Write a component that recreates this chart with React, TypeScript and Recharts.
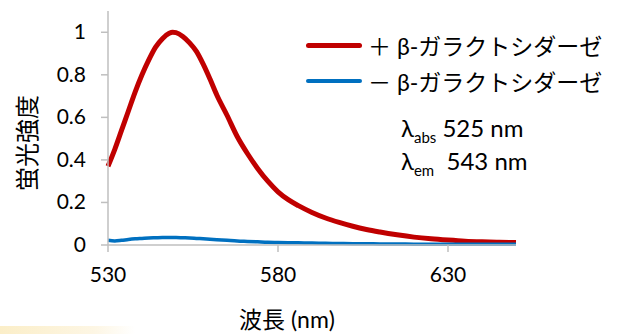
import { Line, LineChart, XAxis, YAxis } from 'recharts';

const wavelengths = [
  530, 532, 534, 536, 538, 540, 542, 544, 546, 548, 549, 550, 552, 554, 556, 558, 560, 562, 565, 568,
  571, 574, 577, 580, 583, 586, 590, 594, 598, 602, 606, 610, 615, 620, 625, 630, 635, 640, 645, 650,
];
const withEnzyme = [
  0.37, 0.45, 0.54, 0.63, 0.72, 0.8, 0.87, 0.93, 0.97, 0.995, 1.0, 0.998, 0.98, 0.95, 0.91, 0.85, 0.78, 0.705, 0.61, 0.51,
  0.43, 0.36, 0.3, 0.25, 0.213, 0.185, 0.153, 0.127, 0.106, 0.088, 0.073, 0.061, 0.048, 0.037, 0.029, 0.023, 0.018, 0.015, 0.013, 0.012,
];
const withoutEnzyme = [
  0.022, 0.019, 0.022, 0.026, 0.029, 0.031, 0.033, 0.034, 0.035, 0.035, 0.035, 0.035, 0.034, 0.033, 0.031, 0.029, 0.027, 0.025, 0.022, 0.019,
  0.017, 0.015, 0.013, 0.012, 0.011, 0.01, 0.009, 0.008, 0.007, 0.006, 0.006, 0.005, 0.005, 0.004, 0.004, 0.004, 0.004, 0.003, 0.003, 0.003,
];
const xTicks = [530, 580, 630];
const yTicks = [0, 0.2, 0.4, 0.6, 0.8, 1];

const seriesNames = ['＋ β-ガラクトシダーゼ', '－ β-ガラクトシダーゼ'];
const seriesColors = ['#C00000', '#0070C0'];

const data = wavelengths.map((nm, i) => ({ nm, plus: withEnzyme[i], minus: withoutEnzyme[i] }));

const font = "Lato, 'Noto Sans CJK JP', sans-serif";
const axisGray = '#bfbfbf';

function YTick({ y, payload }: any) {
  return (
    <text x={86} y={y} dy={7} textAnchor="end" fill="#000" fontSize={21} fontFamily={font}>
      {payload.value}
    </text>
  );
}

export default function App() {
  return (
    <div style={{ position: 'absolute', left: 0, top: 0, width: 619, height: 334, background: '#fff', overflow: 'hidden' }}>
      <LineChart width={619} height={334} data={data} margin={{ top: 11, right: 103, bottom: 0, left: 0 }}>
        <XAxis
          dataKey="nm"
          type="number"
          domain={[530, 650]}
          ticks={xTicks}
          height={89}
          stroke={axisGray}
          strokeWidth={1.5}
          tickSize={7}
          tick={{ fill: '#000', fontSize: 21, fontFamily: font, dy: 13 }}
          label={{
            content: () => (
              <text x={287} y={328} textAnchor="middle" fill="#000" fontSize={23} fontFamily={font}>
                波長 (nm)
              </text>
            ),
          }}
        />
        <YAxis
          domain={[0, 1.1]}
          ticks={yTicks}
          width={108}
          stroke={axisGray}
          strokeWidth={1.5}
          tickSize={7}
          tick={<YTick />}
          label={{
            content: () => (
              <text x={0} y={0} transform="translate(36,143) rotate(-90)" textAnchor="middle" fill="#000" fontSize={24} fontFamily={font}>
                蛍光強度
              </text>
            ),
          }}
        />
        <Line dataKey="plus" name={seriesNames[0]} type="monotone" stroke={seriesColors[0]} strokeWidth={5} dot={false} isAnimationActive={false} />
        <Line dataKey="minus" name={seriesNames[1]} type="monotone" stroke={seriesColors[1]} strokeWidth={3.5} dot={false} isAnimationActive={false} />
      </LineChart>
      <div style={{ position: 'absolute', left: 306, top: 27, fontFamily: font, fontSize: 23, color: '#000', whiteSpace: 'nowrap' }}>
        {seriesNames.map((name, i) => (
          <div key={name} style={{ display: 'flex', alignItems: 'center', height: 36 }}>
            <span style={{ display: 'inline-block', width: 56, height: i === 0 ? 5 : 4, borderRadius: 3, background: seriesColors[i], marginRight: 6 }} />
            {name}
          </div>
        ))}
      </div>
      <div style={{ position: 'absolute', left: 401, top: 113, fontFamily: font, fontSize: 24, color: '#000', whiteSpace: 'nowrap' }}>
        <div style={{ height: 33, lineHeight: '29px' }}>
          λ<span style={{ fontSize: 15, position: 'relative', top: 6 }}>abs</span> 525 nm
        </div>
        <div style={{ height: 33, lineHeight: '29px' }}>
          λ<span style={{ fontSize: 15, position: 'relative', top: 6 }}>em</span>&nbsp;&nbsp;543 nm
        </div>
      </div>
      <div
        style={{
          position: 'absolute',
          left: 0,
          top: 326,
          width: 135,
          height: 8,
          background: 'linear-gradient(to right, #fbeec8, #fdf6e4 70%, #ffffff)',
        }}
      />
    </div>
  );
}
